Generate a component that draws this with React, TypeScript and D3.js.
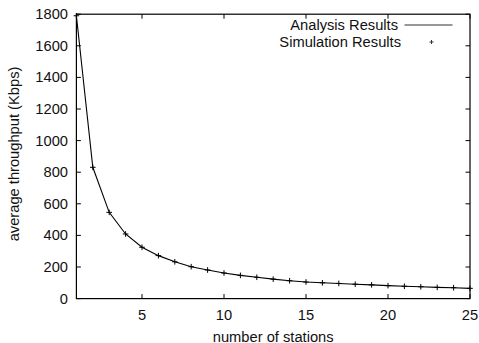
import * as d3 from "d3";
import { useEffect, useRef } from "react";

// stations 1..25, throughput (Kbps)
const stations = [1, 2, 3, 4, 5, 6, 7, 8, 9, 10, 11, 12, 13, 14, 15, 16, 17, 18, 19, 20, 21, 22, 23, 24, 25];
const analysis = [1790, 831, 546, 409, 325, 272, 233, 202, 181, 162, 147, 135, 123, 113, 105, 100, 96, 91, 87, 82, 78, 75, 71, 69, 65];
const simulation = [1790, 831, 546, 409, 325, 272, 233, 202, 181, 162, 147, 135, 123, 113, 105, 100, 96, 91, 87, 82, 78, 75, 71, 69, 65];
const xTicks = [5, 10, 15, 20, 25];
const yTicks = [0, 200, 400, 600, 800, 1000, 1200, 1400, 1600, 1800];

export default function App() {
    const ref = useRef<SVGSVGElement>(null);
    const w = 479, h = 343;

    useEffect(() => {
        const svg = d3.select(ref.current);
        svg.selectAll("*").remove();

        const left = 76.4, right = 470, top = 14.2, bottom = 298.6;
        const font = "'Liberation Sans', Arial, Helvetica, sans-serif";
        const fs = 14.7;
        const ink = "#000";

        const x = d3.scaleLinear().domain([1, 25]).range([left, right]);
        const y = d3.scaleLinear().domain([0, 1800]).range([bottom, top]);
        const tl = 4.5;

        const g = svg.append("g");

        // --- ticks (inward, mirrored) ---
        yTicks.forEach(t => {
            g.append("line").attr("x1", left).attr("x2", left + tl)
                .attr("y1", y(t)).attr("y2", y(t)).attr("stroke", ink);
            g.append("line").attr("x1", right).attr("x2", right - tl)
                .attr("y1", y(t)).attr("y2", y(t)).attr("stroke", ink);
            g.append("text").attr("x", 68).attr("y", y(t) + 5)
                .attr("text-anchor", "end").attr("font-family", font)
                .attr("font-size", fs).attr("fill", "#111").text(t);
        });
        xTicks.forEach(t => {
            g.append("line").attr("x1", x(t)).attr("x2", x(t))
                .attr("y1", bottom).attr("y2", bottom - tl).attr("stroke", ink);
            g.append("line").attr("x1", x(t)).attr("x2", x(t))
                .attr("y1", top).attr("y2", top + tl).attr("stroke", ink);
            g.append("text").attr("x", x(t)).attr("y", 319.5)
                .attr("text-anchor", "middle").attr("font-family", font)
                .attr("font-size", fs).attr("fill", "#111").text(t);
        });

        // --- frame ---
        g.append("rect").attr("x", left).attr("y", top)
            .attr("width", right - left).attr("height", bottom - top)
            .attr("fill", "none").attr("stroke", ink).attr("stroke-width", 1.2);

        // --- axis labels ---
        g.append("text").attr("x", (left + right) / 2).attr("y", 341.5)
            .attr("text-anchor", "middle").attr("font-family", font)
            .attr("font-size", fs).attr("fill", "#111").text("number of stations");
        g.append("text")
            .attr("transform", `translate(19,154) rotate(-90)`)
            .attr("text-anchor", "middle").attr("font-family", font)
            .attr("font-size", fs).attr("fill", "#111").text("average throughput (Kbps)");

        // --- analysis line ---
        const line = d3.line<number>()
            .x((d, i) => x(stations[i]))
            .y(d => y(d));
        g.append("path").datum(analysis)
            .attr("fill", "none").attr("stroke", ink).attr("stroke-width", 1.1)
            .attr("d", line);

        // --- simulation points (+) ---
        const ps = 2.8;
        const pts = g.append("g").attr("stroke", ink).attr("stroke-width", 1);
        simulation.forEach((v, i) => {
            const cx = x(stations[i]), cy = y(v);
            pts.append("line").attr("x1", cx - ps).attr("x2", cx + ps).attr("y1", cy).attr("y2", cy);
            pts.append("line").attr("x1", cx).attr("x2", cx).attr("y1", cy - ps).attr("y2", cy + ps);
        });

        // --- legend ---
        const lx = 400;
        g.append("text").attr("x", lx - 2).attr("y", 30).attr("text-anchor", "end")
            .attr("font-family", font).attr("font-size", fs).attr("fill", "#111")
            .text("Analysis Results");
        g.append("line").attr("x1", 404.5).attr("x2", 452.5).attr("y1", 25).attr("y2", 25)
            .attr("stroke", "#333").attr("stroke-width", 1);
        g.append("text").attr("x", lx + 1).attr("y", 46.5).attr("text-anchor", "end")
            .attr("font-family", font).attr("font-size", fs).attr("fill", "#111")
            .text("Simulation Results");
        g.append("line").attr("x1", 429.5).attr("x2", 433.5).attr("y1", 42).attr("y2", 42).attr("stroke", "#333");
        g.append("line").attr("x1", 431.5).attr("x2", 431.5).attr("y1", 40).attr("y2", 44).attr("stroke", "#333");
    }, []);

    return (
        <svg ref={ref} width={w} height={h}
            style={{ position: "absolute", left: 0, top: 0, background: "#fff" }} />
    );
}
